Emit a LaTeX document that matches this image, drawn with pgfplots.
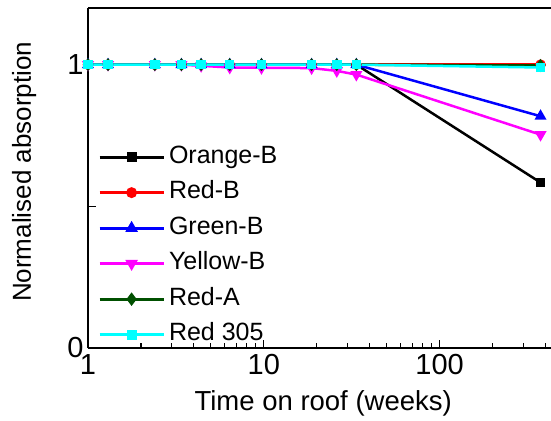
\documentclass[border=0pt]{standalone}
\usepackage{fontspec}
\setmainfont{Liberation Sans}
\usepackage{pgfplots}
\pgfplotsset{compat=1.18}

\definecolor{darkgreenA}{RGB}{0,80,0}
\definecolor{pureMagenta}{RGB}{255,0,255}
\definecolor{pureCyan}{RGB}{0,255,255}
\definecolor{pureBlue}{RGB}{0,0,255}
\definecolor{pureRed}{RGB}{255,0,0}

\begin{document}
\begin{tikzpicture}
\begin{axis}[
  scale only axis,
  width=463pt, height=340pt,
  xmode=log,
  xmin=1, xmax=430,
  ymin=0, ymax=1.2,
  separate axis lines,
  axis x line*=box,
  axis y line*=left,
  xtick pos=bottom,
  ytick pos=left,
  tick align=inside,
  major tick length=8pt,
  minor tick length=5pt,
  xtick={1,10,100},
  xticklabels={1,10,100},
  minor xtick={2,3,4,5,6,7,8,9,20,30,40,50,60,70,80,90,200,300,400},
  ytick={0,0.5,1},
  yticklabels={0,,1},
  every tick/.style={black, line width=1.2pt},
  axis line style={line width=1.6pt},
  /pgf/number format/assume math mode=true,
  tick label style={font=\fontsize{29}{34}\selectfont},
  xticklabel style={yshift=-3pt},
  yticklabel style={xshift=-1pt},
  xlabel={Time on roof (weeks)},
  ylabel={Normalised absorption},
  xlabel style={font=\fontsize{27.5}{32}\selectfont, at={(axis description cs:0.508,-0.185)}, anchor=base},
  ylabel style={font=\fontsize{26}{31}\selectfont, at={(axis description cs:-0.138,0.518)}, anchor=center},
  legend style={
    at={(axis description cs:0.0216,0.609)}, anchor=north west,
    draw=none, fill=none, inner sep=0pt, row sep=3.5pt,
    font=\fontsize{25}{30}\selectfont,
    nodes={inner sep=4pt, text height=18pt, text depth=6pt},
  },
  legend cell align=left,
  legend image code/.code={
    \draw[mark repeat=2,mark phase=2,#1,line width=2.8pt] plot coordinates {(0pt,0pt) (32pt,0pt) (64pt,0pt)};
  },
  every axis plot/.append style={line width=2.5pt, mark options={solid}},
]
\addplot[black, mark=square*, mark size=3.5pt] coordinates {
  (1,1) (1.3,1) (2.4,1) (3.4,1) (4.4,1) (6.4,1) (9.7,1) (18.7,1) (26,1) (33.6,1) (375,0.584)
};
\addlegendentry{Orange-B}
\addplot[pureRed, mark=*, mark size=4pt] coordinates {
  (1,1) (1.3,1) (2.4,1) (3.4,1) (4.4,1) (6.4,1) (9.7,1) (18.7,1) (26,1) (33.6,1) (375,1.0)
};
\addlegendentry{Red-B}
\addplot[pureBlue, mark=triangle*, mark size=4.5pt] coordinates {
  (1,1) (1.3,1) (2.4,1) (3.4,1) (4.4,1) (6.4,1) (9.7,1) (18.7,1) (26,1) (33.6,1) (375,0.818)
};
\addlegendentry{Green-B}
\addplot[pureMagenta, mark=triangle*, mark size=4.5pt, mark options={rotate=180}] coordinates {
  (1,1) (1.3,1) (2.4,1) (3.4,1) (4.4,0.996) (6.4,0.99) (9.7,0.989) (18.7,0.988) (26,0.978) (33.6,0.965) (375,0.753)
};
\addlegendentry{Yellow-B}
\addplot[darkgreenA, mark=diamond*, mark size=4.5pt] coordinates {
  (1,1) (1.3,1) (2.4,1) (3.4,1) (4.4,1) (6.4,1) (9.7,1) (18.7,1) (26,1) (33.6,1) (375,0.997)
};
\addlegendentry{Red-A}
\addplot[pureCyan, mark=square*, mark size=3.5pt] coordinates {
  (1,1) (1.3,1) (2.4,1) (3.4,1) (4.4,1) (6.4,1) (9.7,1) (18.7,1) (26,1) (33.6,1) (375,0.99)
};
\addlegendentry{Red 305}
\end{axis}
\pgfresetboundingbox
\path[use as bounding box] ([xshift=-88pt,yshift=-72pt]current axis.south west) rectangle ([yshift=8pt]current axis.north east);
\end{tikzpicture}
\end{document}
